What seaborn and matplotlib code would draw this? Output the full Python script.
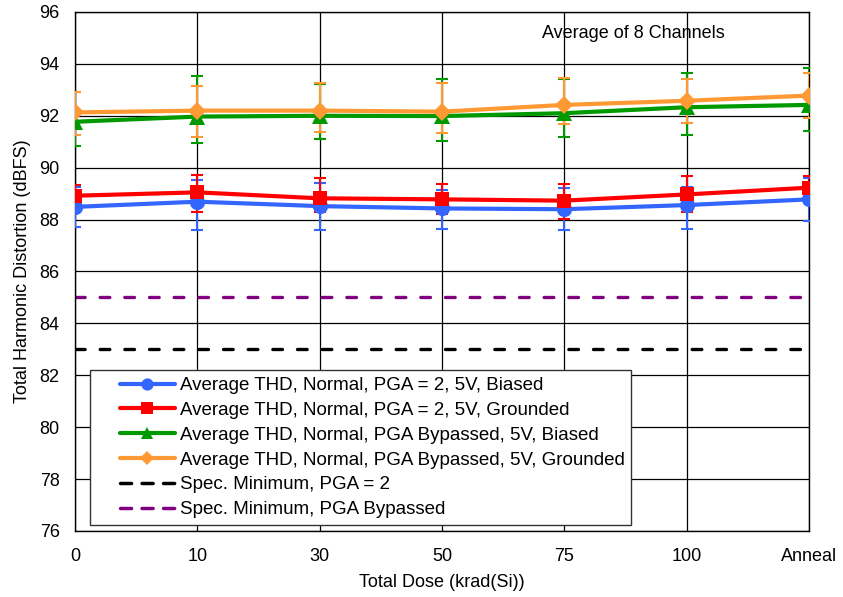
import matplotlib
matplotlib.use("Agg")
import matplotlib.pyplot as plt
import seaborn as sns
import pandas as pd
import numpy as np
from matplotlib.lines import Line2D
from matplotlib.legend_handler import HandlerLine2D

categories = ["0", "10", "30", "50", "75", "100", "Anneal"]

blue_mean = [88.49, 88.69, 88.52, 88.43, 88.40, 88.56, 88.78]
blue_hi = [89.27, 89.53, 89.42, 89.14, 89.20, 89.27, 89.59]
blue_lo = [87.70, 87.60, 87.60, 87.63, 87.60, 87.64, 87.96]

red_mean = [88.92, 89.05, 88.82, 88.78, 88.73, 88.97, 89.23]
red_hi = [89.33, 89.71, 89.59, 89.36, 89.36, 89.68, 89.68]
red_lo = [88.50, 88.31, 88.30, 88.22, 88.03, 88.28, 88.80]

green_mean = [91.77, 91.97, 92.00, 91.99, 92.10, 92.33, 92.42]
green_hi = [92.93, 93.55, 93.21, 93.42, 93.42, 93.66, 93.85]
green_lo = [90.84, 90.94, 91.09, 91.03, 91.20, 91.26, 91.43]

orange_mean = [92.13, 92.20, 92.20, 92.16, 92.42, 92.58, 92.78]
orange_hi = [92.90, 93.16, 93.25, 93.25, 93.44, 93.42, 93.64]
orange_lo = [91.26, 91.20, 91.39, 91.33, 91.68, 91.71, 91.93]

spec_pga2 = 83.0
spec_bypass = 85.0

labels = [
    "Average THD, Normal, PGA = 2, 5V, Biased",
    "Average THD, Normal, PGA = 2, 5V, Grounded",
    "Average THD, Normal, PGA Bypassed, 5V, Biased",
    "Average THD, Normal, PGA Bypassed, 5V, Grounded",
]
spec_labels = ["Spec. Minimum, PGA = 2", "Spec. Minimum, PGA Bypassed"]

sns.set_theme(style="white")
plt.rcParams['font.family'] = ['Liberation Sans', 'DejaVu Sans']
plt.rcParams['text.color'] = 'black'
plt.rcParams['axes.labelcolor'] = 'black'
FS = 13

fig = plt.figure(figsize=(8.43, 5.97), dpi=100)
ax = fig.add_axes([75/843, 1-531/597, (809-75)/843, (531-12)/597])

x = np.arange(len(categories))
series = [
    (blue_mean, blue_lo, blue_hi, "#3366FF", "o", 11),
    (red_mean, red_lo, red_hi, "#FF0000", "s", 10.5),
    (green_mean, green_lo, green_hi, "#009900", "^", 11),
    (orange_mean, orange_lo, orange_hi, "#FF9933", "D", 9),
]

rows = []
for lab, (m, lo, hi, c, mk, ms) in zip(labels, series):
    for i, v in enumerate(m):
        rows.append({"x": x[i], "y": v, "series": lab})
df = pd.DataFrame(rows)

for lab, (m, lo, hi, c, mk, ms) in zip(labels, series):
    m = np.array(m); lo = np.array(lo); hi = np.array(hi)
    ax.errorbar(x, m, yerr=[m - lo, hi - m], fmt="none", ecolor=c,
                elinewidth=1.5, capsize=4, capthick=1.5, zorder=3)

for lab, s in zip(labels, series):
    sns.lineplot(data=df[df["series"] == lab], x="x", y="y",
                 color=s[3], marker=s[4], markersize=s[5],
                 linewidth=3, markeredgewidth=0,
                 ax=ax, legend=False, zorder=4)

DASH = (0, (2.9, 4.5))
ax.axhline(spec_pga2, color="black", lw=2.4, ls=DASH,
           dash_capstyle="round", zorder=2)
ax.axhline(spec_bypass, color="#800080", lw=2.4, ls=DASH,
           dash_capstyle="round", zorder=2)

ax.set_xlim(0, 6)
ax.set_ylim(76, 96)
ax.set_xticks(x)
ax.set_xticklabels(categories)
ax.set_yticks(np.arange(76, 97, 2))
ax.grid(True, color="black", lw=0.9)
ax.set_axisbelow(True)
for sp in ax.spines.values():
    sp.set_color("black")
    sp.set_linewidth(1)
ax.tick_params(axis="both", labelsize=FS, labelcolor="black", length=0)
ax.tick_params(axis="x", pad=12)
ax.tick_params(axis="y", pad=11)
ax.set_xlabel("Total Dose (krad(Si))", fontsize=FS, color="black", labelpad=7)
ax.set_ylabel("Total Harmonic Distortion (dBFS)", fontsize=FS, color="black",
              labelpad=6)

fig.text(633/843, 1-34/597, "Average of 8 Channels", fontsize=FS,
         ha="center", va="center", color="black")


class ShiftedHandler(HandlerLine2D):
    def create_artists(self, legend, orig_handle, xdescent, ydescent,
                       width, height, fontsize, trans):
        d = width * 0.3
        return super().create_artists(legend, orig_handle, xdescent - d,
                                      ydescent, width - d, height,
                                      fontsize, trans)


handles = []
for lab, (m, lo, hi, c, mk, ms) in zip(labels, series):
    handles.append(Line2D([], [], color=c, marker=mk, lw=3,
                          markersize=ms * 0.8, markeredgewidth=0))
handles.append(Line2D([], [], color="black", lw=2.5, ls=(0, (3.2, 3.0)),
                      dash_capstyle="round"))
handles.append(Line2D([], [], color="#800080", lw=2.5, ls=(0, (3.2, 3.0)),
                      dash_capstyle="round"))
leg = ax.legend(handles, labels + spec_labels, loc="lower left",
                bbox_to_anchor=(0.02, 0.012), fontsize=13.5, frameon=True,
                fancybox=False, edgecolor="#333333", framealpha=1,
                handlelength=4.2, handletextpad=0.25, labelspacing=0.41,
                borderpad=0.35, borderaxespad=0,
                handler_map={Line2D: ShiftedHandler()})
leg.get_frame().set_linewidth(1)
for t in leg.get_texts():
    t.set_color("black")

fig.savefig("out.png", dpi=100)
